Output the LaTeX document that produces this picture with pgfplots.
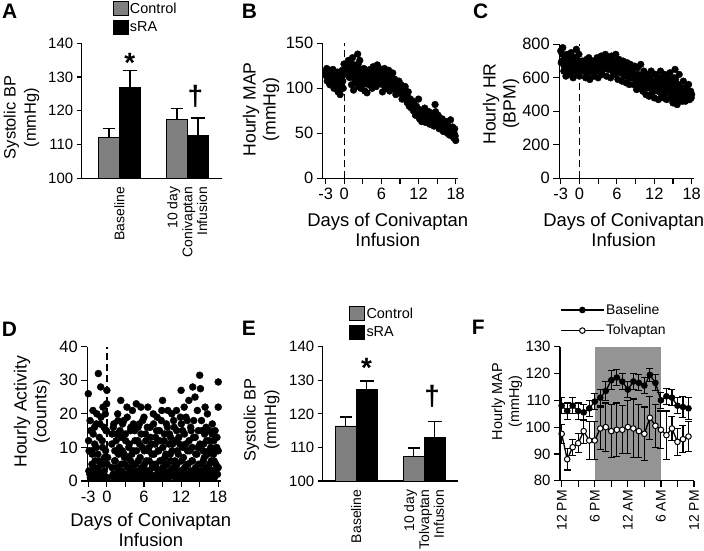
\documentclass[border=0pt]{standalone}
\usepackage{fontspec}
\setmainfont{Liberation Sans}
\usepackage{pgfplots}
\pgfplotsset{compat=1.18}
\definecolor{bargray}{gray}{0.5}
\definecolor{shade}{gray}{0.58}
\newcommand{\fs}[1]{\fontsize{#1}{#1}\selectfont}
\newcommand{\fsl}[2]{\fontsize{#1}{#2}\selectfont}
\pgfplotsset{
  base/.style={scale only axis, axis x line*=bottom, axis y line*=left,
    axis line style={line width=1.2bp,-}, tick align=outside, major tick length=5bp,
    tick style={line width=1.2bp, black}, /pgf/number format/assume math mode=true,
    clip mode=individual, minor tick num=0, anchor=south west},
  sqlegend/.style={legend image code/.code={\draw[##1,/tikz/.cd,line width=0.8bp] (0bp,-7bp) rectangle (15bp,7bp);}},
  linelegend/.style={legend image code/.code={\draw[mark repeat=2,mark phase=2,##1,/tikz/.cd] plot coordinates {(0bp,0bp) (21.5bp,0bp) (43bp,0bp)};}},
}
\begin{document}
\begin{tikzpicture}
\useasboundingbox (0,0) rectangle (704bp,-551bp);
% ---------------- A ----------------
\begin{axis}[base, at={(81.7bp,-178.3bp)}, width=140bp, height=135bp,
  ymin=100, ymax=140, ytick={100,110,120,130,140},
  xmin=-0.553, xmax=1.506, xtick={0,1}, xticklabels={Baseline,{10 day\\Conivaptan\\Infusion}},
  xtick style={draw=none}, ybar=0pt, bar width=21bp,
  xticklabel style={rotate=90, anchor=east, align=right, font=\fsl{14}{15}},
  yticklabel style={font=\fs{15}},
  ylabel={Systolic BP\\(mmHg)}, ylabel style={at={(axis description cs:-0.43,0.45)}, anchor=center, align=center, font=\fsl{16.5}{20.5}},
  legend style={at={(axis description cs:0.22,1.313)}, anchor=north west, draw=none, fill=none, font=\fs{14.5}, row sep=4bp, inner sep=0pt, nodes={inner sep=1.5bp}},
  legend cell align=left]
\addplot[fill=bargray, draw=black, line width=0.8bp, sqlegend,
  error bars/.cd, y dir=plus, y explicit, error bar style={line width=1.5bp,black},
  error mark options={rotate=90, mark size=6bp, line width=1.5bp, black}]
  coordinates {(0,112.2) +- (0,2.5) (1,117.5) +- (0,3.2)};
\addplot[fill=black, draw=black, line width=0.8bp, sqlegend,
  error bars/.cd, y dir=plus, y explicit, error bar style={line width=1.5bp,black},
  error mark options={rotate=90, mark size=7bp, line width=1.5bp, black}]
  coordinates {(0,126.8) +- (0,5.2) (1,112.7) +- (0,5.2)};
\legend{Control,sRA}
\node[anchor=base, inner sep=0pt, font=\bfseries\fs{28}] at (axis cs:0.155,131.3) {*};
\node[anchor=center, inner sep=0pt, font=\bfseries\fs{28}] at (axis cs:1.12,124.4) {†};
\end{axis}
% ---------------- B ----------------
\begin{axis}[base, at={(322.7bp,-178.3bp)}, width=135bp, height=135bp,
  xmin=-83.6, xmax=439.7, ymin=0, ymax=150,
  xtick={-72,0,72,144,216,288,360,432}, xticklabels={-3,0,,6,,12,,18},
  ytick={0,50,100,150}, major tick length=6bp,
  tick label style={font=\fs{16.5}},
  xlabel={Days of Conivaptan\\Infusion}, xlabel style={at={(axis description cs:0.482,-0.259)}, anchor=north, align=center, font=\fsl{18.5}{19.5}, inner sep=0pt},
  ylabel={Hourly MAP\\(mmHg)}, ylabel style={at={(axis description cs:-0.457,0.51)}, anchor=center, align=center, font=\fsl{17.7}{20}}]
\addplot[black, line width=1.3bp, dash pattern=on 7bp off 4bp] coordinates {(0,0)(0,150)};
\addplot[only marks, mark=*, mark size=3.4bp, black] coordinates {
(-72,118)(-68,122)(-64,112)(-60,120)(-56,104)(-52,116)
(-48,110)(-44,121)(-40,100)(-36,117)(-32,108)(-28,114)
(-24,96)(-20,112)(-16,93)(-12,106)(-8,120)(-4,100)
(-1,127)(8,126)(12,119)(16,131)(20,112)
(24,128)(28,104)(32,134)(36,98)(40,120)(44,110)
(48,124)(52,138)(56,102)(60,131)(64,100)(68,116)
(72,108)(76,122)(80,97)(84,113)(88,95)(92,118)
(96,104)(100,121)(104,112)(108,100)(112,124)(116,107)
(120,115)(124,102)(128,126)(132,110)(136,122)(140,105)
(144,118)(148,96)(152,112)(156,122)(160,100)(164,115)
(168,108)(172,120)(176,97)(180,112)(184,104)(188,117)
(192,100)(196,110)(200,93)(204,106)(208,98)(212,108)
(216,95)(220,104)(224,88)(228,100)(232,92)(236,102)
(240,90)(244,84)(248,96)(252,80)(256,88)(260,78)
(264,86)(268,75)(272,82)(276,70)(280,80)(284,74)
(288,88)(292,66)(296,76)(300,63)(304,72)(308,68)
(312,78)(316,62)(320,70)(324,65)(328,74)(332,60)
(336,68)(340,62)(344,72)(348,58)(352,82)(356,66)
(360,60)(364,70)(368,55)(372,64)(376,58)(380,66)
(384,52)(388,60)(392,54)(396,63)(400,50)(404,58)
(408,48)(412,65)(416,52)(420,57)(424,45)(428,55)(432,42)
(-70,114)(-66,108)(-62,116)(-58,111)(-54,118)(-50,106)(-46,113)(-42,109)(-38,115)
(-34,104)(-30,111)(-26,118)(-22,103)(-18,110)(-14,99)(-10,113)(-6,108)(-2,115)
(10,123)(14,127)(18,117)(22,125)(26,116)(30,122)(34,112)(38,126)(42,106)(46,118)
(50,112)(54,127)(58,116)(62,109)(66,121)(70,104)(74,114)(78,110)(82,118)(86,105)
(90,108)(94,112)(98,115)(102,108)(106,118)(110,113)(114,109)(118,116)(122,110)(126,118)
(130,106)(134,115)(138,112)(142,119)(146,108)(150,104)(154,116)(158,109)(162,112)(166,106)
(170,114)(174,103)(178,109)(182,100)(186,111)(190,108)(194,104)(198,99)(202,101)(206,97)
(210,103)(214,100)(218,99)(222,94)(226,96)(230,95)(234,97)(238,92)(242,94)(246,87)
(250,89)(254,85)(258,83)(262,86)(266,79)(270,81)(274,77)(278,76)(282,73)(286,70)
(290,76)(294,71)(298,69)(302,73)(306,65)(310,72)(314,69)(318,66)(322,71)(326,68)
(330,64)(334,70)(338,65)(342,67)(346,63)(350,70)(354,74)(358,62)(362,65)(366,60)
(370,63)(374,59)(378,61)(382,57)(386,56)(390,59)(394,57)(398,55)(402,54)(406,53)
(410,56)(414,50)(418,54)(422,49)(426,50)(430,47)};
\end{axis}
% ---------------- C ----------------
\begin{axis}[base, at={(559.3bp,-178.3bp)}, width=134.2bp, height=134bp,
  xmin=-77.4, xmax=439, ymin=0, ymax=800,
  xtick={-72,0,72,144,216,288,360,432}, xticklabels={-3,0,,6,,12,,18},
  ytick={0,200,400,600,800}, major tick length=6bp,
  tick label style={font=\fs{16.5}},
  xlabel={Days of Conivaptan\\Infusion}, xlabel style={at={(axis description cs:0.48,-0.26)}, anchor=north, align=center, font=\fsl{18.5}{19.5}, inner sep=0pt},
  ylabel={Hourly HR\\(BPM)}, ylabel style={at={(axis description cs:-0.434,0.555)}, anchor=center, align=center, font=\fsl{17.7}{20}}]
\addplot[black, line width=1.3bp, dash pattern=on 7bp off 4bp] coordinates {(0,0)(0,800)};
\addplot[only marks, mark=*, mark size=3.4bp, black] coordinates {
(-72,760)(-68,700)(-64,780)(-60,640)(-56,720)(-52,610)
(-48,740)(-44,660)(-40,700)(-36,620)(-32,750)(-28,680)
(-24,600)(-20,720)(-16,650)(-12,770)(-8,630)(-4,700)
(0,610)(4,680)(8,660)(12,700)(16,640)(20,690)
(24,600)(28,710)(32,650)(36,720)(40,590)(44,680)
(48,640)(52,700)(56,610)(60,690)(64,660)(68,720)
(72,600)(76,700)(80,640)(84,730)(88,620)(92,690)
(96,660)(100,740)(104,610)(108,700)(112,650)(116,720)
(120,600)(124,730)(128,640)(132,700)(136,620)(140,740)
(144,660)(148,590)(152,710)(156,630)(160,680)(164,580)
(168,700)(172,610)(176,660)(180,570)(184,690)(188,620)
(192,560)(196,680)(200,600)(204,650)(208,560)(212,670)
(216,590)(220,530)(224,660)(228,600)(232,540)(236,680)
(240,580)(244,520)(248,640)(252,560)(256,500)(260,620)
(264,540)(268,490)(272,600)(276,640)(280,510)(284,570)
(288,480)(292,620)(296,530)(300,600)(304,470)(308,560)
(312,640)(316,500)(320,580)(324,480)(328,620)(332,540)
(336,470)(340,600)(344,520)(348,630)(352,480)(356,560)
(360,450)(364,600)(368,650)(372,500)(376,440)(380,560)
(384,620)(388,470)(392,540)(396,460)(400,580)(404,510)
(408,460)(412,540)(416,490)(420,560)(424,470)(428,520)(432,500)
(-70,690)(-66,740)(-62,700)(-58,670)(-54,690)(-50,720)(-46,650)(-42,730)(-38,680)
(-34,660)(-30,710)(-26,640)(-22,690)(-18,660)(-14,720)(-10,690)(-6,660)(-2,740)
(2,660)(6,640)(10,690)(14,670)(18,650)(22,700)(26,660)(30,620)(34,690)(38,670)
(42,640)(46,700)(50,660)(54,680)(58,650)(62,700)(66,640)(70,680)(74,650)(78,700)
(82,670)(86,690)(90,650)(94,710)(98,680)(102,660)(106,700)(110,690)(114,680)(118,660)
(122,680)(126,690)(130,670)(134,660)(138,690)(142,680)(146,640)(150,670)(154,650)(158,670)
(162,630)(166,650)(170,660)(174,640)(178,620)(182,640)(186,650)(190,600)(194,630)(198,640)
(202,620)(206,610)(210,600)(214,620)(218,560)(222,600)(226,620)(230,580)(234,590)(238,610)
(242,560)(246,580)(250,600)(254,540)(258,570)(262,560)(266,590)(270,540)(274,560)(278,580)
(282,530)(286,550)(290,570)(294,540)(298,560)(302,520)(306,540)(310,600)(314,560)(318,540)
(322,590)(326,530)(330,560)(334,510)(338,560)(342,540)(346,580)(350,520)(354,540)(358,500)
(362,530)(366,560)(370,590)(374,470)(378,520)(382,500)(386,540)(390,500)(394,520)(398,490)
(402,540)(406,480)(410,510)(414,500)(418,520)(422,490)(426,500)(430,480)};
\end{axis}
% ---------------- D ----------------
\begin{axis}[base, at={(87.3bp,-481bp)}, width=133.4bp, height=134.3bp,
  xmin=-75.9, xmax=441.6, ymin=0, ymax=40,
  xtick={-72,0,72,144,216,288,360,432}, xticklabels={-3,0,,6,,12,,18},
  ytick={0,10,20,30,40}, major tick length=6bp,
  tick label style={font=\fs{16.5}},
  xlabel={Days of Conivaptan\\Infusion}, xlabel style={at={(axis description cs:0.476,-0.240)}, anchor=north, align=center, font=\fsl{18.5}{19.3}, inner sep=0pt},
  ylabel={Hourly Activity\\(counts)}, ylabel style={at={(axis description cs:-0.415,0.515)}, anchor=center, align=center, font=\fsl{17.7}{20}}]
\addplot[black, line width=1.3bp, dash pattern=on 7bp off 4bp] coordinates {(0,0)(0,40)};
\addplot[only marks, mark=*, mark size=3.5bp, black] coordinates {
(-72,26)(-69,9)(-66,2)(-63,15)(-60,1)(-57,8)(-54,21)(-51,4)
(-48,16)(-45,1)(-42,10)(-39,20)(-36,3)(-33,32)(-30,6)(-27,17)
(-24,28)(-21,1)(-18,12)(-15,22)(-12,2)(-9,7)(-6,20)(-3,15)
(0,27)(-1,23)(1,5)(2,1)(-2,15)(3,7)(20,14)
(24,2)(27,17)(30,6)(33,1)(36,12)(39,4)(42,20)(45,8)
(48,1)(51,15)(54,24)(57,3)(60,9)(63,1)(66,18)(69,5)
(72,14)(75,2)(78,22)(81,7)(84,1)(87,11)(90,4)(93,16)
(96,3)(99,21)(102,9)(105,1)(108,15)(111,5)(114,23)(117,1)
(120,12)(123,3)(126,17)(129,7)(132,22)(135,1)(138,10)(141,4)
(144,19)(147,2)(150,14)(153,6)(156,1)(159,22)(162,9)(165,3)
(168,16)(171,1)(174,11)(177,5)(180,20)(183,8)(186,1)(189,13)
(192,4)(195,19)(198,2)(201,9)(204,15)(207,1)(210,6)(213,21)
(216,24)(219,3)(222,12)(225,7)(228,1)(231,17)(234,5)(237,21)
(240,1)(243,14)(246,8)(249,2)(252,20)(255,11)(258,4)(261,16)
(264,6)(267,1)(270,21)(273,9)(276,3)(279,13)(282,1)(285,19)
(288,27)(291,2)(294,15)(297,7)(300,22)(303,4)(306,11)(309,1)
(312,18)(315,5)(318,24)(321,9)(324,2)(327,15)(330,6)(333,28)
(336,13)(339,1)(342,25)(345,8)(348,3)(351,21)(354,10)(357,1)
(360,31.5)(363,27.5)(366,5)(369,15)(372,1)(375,11)(378,7)(381,22)
(384,2)(387,12)(390,20)(393,4)(396,9)(399,15)(402,1)(405,6)
(408,14)(411,3)(414,8)(417,1)(420,15)(423,5)(426,10)(429,2)
(432,29.5)(432,22)(432,9)(432,4)
(-70,3)(-64,1)(-58,5)(-52,2)(-46,6)(-40,1)(-34,4)(-28,2)(-22,1)(-16,5)(-10,3)(-4,1)
(20,4)(26,1)(32,6)(38,2)(44,3)(50,1)(56,5)(62,2)(68,7)(74,1)(80,4)(86,2)
(92,6)(98,1)(104,3)(110,5)(116,2)(122,6)(128,1)(134,4)(140,2)(146,5)(152,1)(158,3)
(164,6)(170,2)(176,4)(182,1)(188,5)(194,2)(200,3)(206,6)(212,1)(218,4)(224,2)(230,5)
(236,1)(242,3)(248,6)(254,2)(260,4)(266,1)(272,5)(278,2)(284,3)(290,6)(296,1)(302,4)
(308,2)(314,5)(320,1)(326,3)(332,6)(338,2)(344,4)(350,1)(356,5)(362,2)(368,3)(374,6)
(380,1)(386,4)(392,2)(398,5)(404,1)(410,3)(416,6)(422,2)(428,4)
(-71,12)(-65,18)(-59,9)(-53,14)(-47,11)(-41,17)(-35,8)(-29,13)(-23,19)(-17,10)(-11,16)(-5,9)
(19,11)(25,16)(31,9)(37,14)(43,18)(49,10)(55,13)(61,17)(67,8)(73,12)(79,19)(85,10)
(91,15)(97,8)(103,17)(109,12)(115,9)(121,16)(127,11)(133,14)(139,18)(145,9)(151,12)(157,16)
(163,10)(169,13)(175,8)(181,17)(187,11)(193,15)(199,9)(205,12)(211,18)(217,10)(223,14)(229,8)
(235,16)(241,11)(247,13)(253,9)(259,18)(265,12)(271,15)(277,8)(283,11)(289,17)(295,10)(301,14)
(307,19)(313,9)(319,12)(325,16)(331,10)(337,18)(343,13)(349,8)(355,15)(361,11)(367,18)(373,9)
(379,14)(385,16)(391,8)(397,12)(403,10)(409,17)(415,12)(421,9)(427,13)};
\end{axis}
% ---------------- E ----------------
\begin{axis}[base, at={(322.7bp,-481bp)}, width=135.6bp, height=134.3bp,
  ymin=100, ymax=140, ytick={100,110,120,130,140},
  xmin=-0.49, xmax=1.504, xtick={0,1}, xticklabels={Baseline,{10 day\\Tolvaptan\\Infusion}},
  xtick style={draw=none}, ybar=0pt, bar width=21bp,
  xticklabel style={rotate=90, anchor=east, align=right, font=\fsl{14}{15}},
  yticklabel style={font=\fs{15}},
  ylabel={Systolic BP\\(mmHg)}, ylabel style={at={(axis description cs:-0.451,0.454)}, anchor=center, align=center, font=\fsl{16.5}{20.5}},
  legend style={at={(axis description cs:0.194,1.303)}, anchor=north west, draw=none, fill=none, font=\fs{14.5}, row sep=4bp, inner sep=0pt, nodes={inner sep=1.5bp}},
  legend cell align=left]
\addplot[fill=bargray, draw=black, line width=0.8bp, sqlegend,
  error bars/.cd, y dir=plus, y explicit, error bar style={line width=1.5bp,black},
  error mark options={rotate=90, mark size=6bp, line width=1.5bp, black}]
  coordinates {(0,116.4) +- (0,2.6) (1,107.2) +- (0,2.7)};
\addplot[fill=black, draw=black, line width=0.8bp, sqlegend,
  error bars/.cd, y dir=plus, y explicit, error bar style={line width=1.5bp,black},
  error mark options={rotate=90, mark size=7bp, line width=1.5bp, black}]
  coordinates {(0,127.3) +- (0,2.5) (1,113.0) +- (0,4.7)};
\legend{Control,sRA}
\node[anchor=base, inner sep=0pt, font=\bfseries\fs{28}] at (axis cs:0.155,130.7) {*};
\node[anchor=center, inner sep=0pt, font=\bfseries\fs{28}] at (axis cs:1.12,125.3) {†};
\end{axis}
% ---------------- F ----------------
\begin{axis}[base, at={(560bp,-480.7bp)}, width=134bp, height=134bp,
  xmin=-0.3, xmax=24, ymin=80, ymax=130, axis on top,
  xtick={0,3,6,9,12,15,18,21,24}, xticklabels={12 PM,,6 PM,,12 AM,,6 AM,,12 PM},
  ytick={80,90,100,110,120,130}, major tick length=6bp,
  xticklabel style={rotate=90, anchor=east, font=\fs{14}},
  yticklabel style={font=\fs{15}},
  ylabel={Hourly MAP\\(mmHg)}, ylabel style={at={(axis description cs:-0.396,0.59)}, anchor=center, align=center, font=\fsl{14.5}{17}},
  legend style={at={(axis description cs:0,1.33)}, anchor=north west, draw=none, fill=none, font=\fs{14}, row sep=6bp, inner sep=0pt, nodes={inner sep=1.5bp}},
  legend cell align=left]
\addplot[fill=shade, draw=none, forget plot] coordinates {(6,80)(6,130)(18,130)(18,80)} -- cycle;
\addplot[black, line width=1.3bp, mark=*, mark size=2.8bp, mark options={fill=black, solid, line width=1bp}, linelegend,
  error bars/.cd, y dir=both, y explicit, error bar style={line width=1.1bp,black},
  error mark options={rotate=90, mark size=3.5bp, line width=1.1bp, black}]
  coordinates {
  (0,108) +- (0,3) (1,106) +- (0,3) (2,108) +- (0,3) (3,106) +- (0,3)
  (4,105.5) +- (0,3) (5,107) +- (0,3) (6,109.5) +- (0,3) (7,111) +- (0,3)
  (8,113.5) +- (0,3.5) (9,117.5) +- (0,3.5) (10,118.5) +- (0,3) (11,117) +- (0,3)
  (12,114) +- (0,3) (13,117) +- (0,3) (14,116.5) +- (0,3) (15,115.5) +- (0,3)
  (16,119.5) +- (0,2.5) (17,116.5) +- (0,3) (18,110) +- (0,3) (19,111.5) +- (0,3)
  (20,111) +- (0,3) (21,108) +- (0,3) (22,107.5) +- (0,4) (23,107) +- (0,4)};
\addplot[black, line width=1.3bp, mark=*, mark size=2.8bp, mark options={fill=white, solid, line width=1bp}, linelegend,
  error bars/.cd, y dir=both, y explicit, error bar style={line width=1.1bp,black},
  error mark options={rotate=90, mark size=3.5bp, line width=1.1bp, black}]
  coordinates {
  (0,97.5) +- (0,3.5) (1,88) +- (0,4) (2,92.5) +- (0,3) (3,94) +- (0,3.5)
  (4,98.5) +- (0,4.5) (5,95) +- (0,7) (6,95) +- (0,7) (7,99.5) +- (0,8)
  (8,100) +- (0,9) (9,98.5) +- (0,10) (10,99) +- (0,10) (11,99) +- (0,9)
  (12,100) +- (0,10) (13,99.5) +- (0,11) (14,98.5) +- (0,10) (15,97.5) +- (0,10)
  (16,103.5) +- (0,8) (17,100.5) +- (0,8) (18,99) +- (0,7) (19,97) +- (0,9)
  (20,99.5) +- (0,4.5) (21,94.5) +- (0,5) (22,95.5) +- (0,5) (23,96.5) +- (0,5.5)};
\legend{Baseline,Tolvaptan}
\end{axis}
% ---------------- panel letters ----------------
\node[anchor=base west, inner sep=0pt, font=\bfseries\fs{21}] at (2bp,-18bp) {A};
\node[anchor=base west, inner sep=0pt, font=\bfseries\fs{21}] at (241.7bp,-18.3bp) {B};
\node[anchor=base west, inner sep=0pt, font=\bfseries\fs{21}] at (473bp,-18bp) {C};
\node[anchor=base west, inner sep=0pt, font=\bfseries\fs{21}] at (1.7bp,-336.7bp) {D};
\node[anchor=base west, inner sep=0pt, font=\bfseries\fs{21}] at (241.7bp,-335bp) {E};
\node[anchor=base west, inner sep=0pt, font=\bfseries\fs{21}] at (471.7bp,-334bp) {F};
\end{tikzpicture}
\end{document}
